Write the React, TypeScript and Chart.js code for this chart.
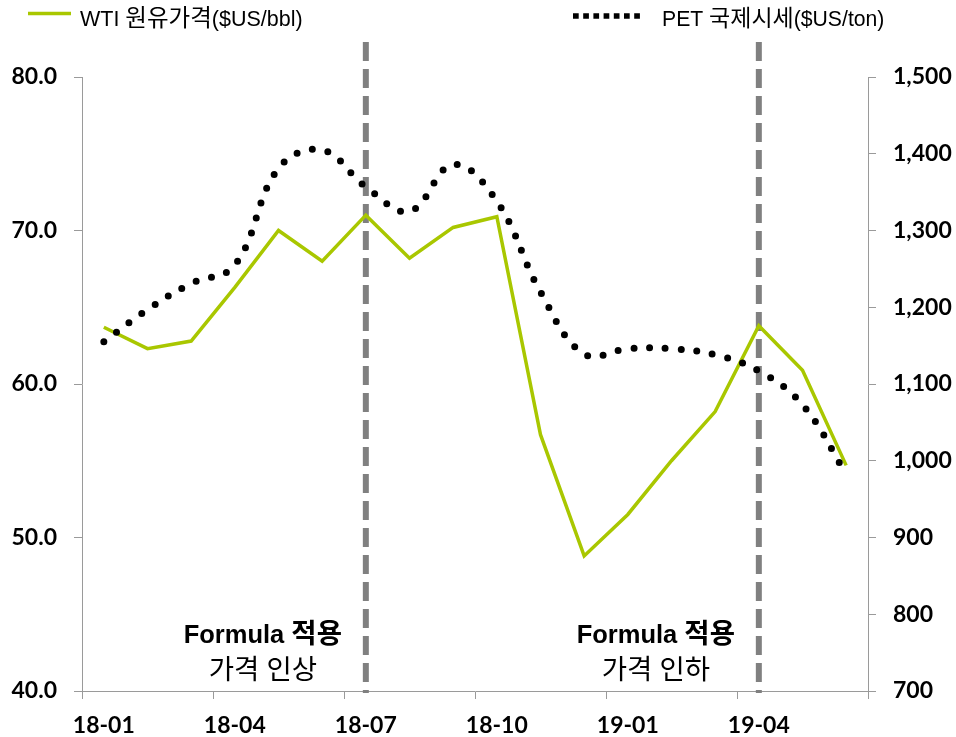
import React, { useEffect, useRef } from 'react';
import { Chart, registerables } from 'chart.js';

Chart.register(...registerables);

// ---- data ----
const months = [
  '18-01', '18-02', '18-03', '18-04', '18-05', '18-06',
  '18-07', '18-08', '18-09', '18-10', '18-11', '18-12',
  '19-01', '19-02', '19-03', '19-04', '19-05', '19-06',
];
const wtiPrice = [63.7, 62.3, 62.8, 66.3, 70.0, 68.0, 71.0, 68.2, 70.2, 70.9, 56.7, 48.8, 51.5, 55.0, 58.2, 63.8, 60.9, 54.7];
const petPrice = [1155, 1197, 1231, 1255, 1381, 1405, 1357, 1325, 1386, 1338, 1220, 1139, 1146, 1146, 1138, 1117, 1073, 983];

const wtiLabel = 'WTI 원유가격($US/bbl)';
const petLabel = 'PET 국제시세($US/ton)';

const leftAxis = { min: 40, max: 80, step: 10 };
const rightAxis = { min: 700, max: 1500, step: 100 };
const labelEvery = 3;

const markerMonths = ['18-07', '19-04'];
const markerNotes = [
  ['Formula 적용', '가격 인상'],
  ['Formula 적용', '가격 인하'],
];

// ---- styles ----
const GREEN = '#a9c700';
const AXIS_GRAY = '#9a9a9a';
const DASH_GRAY = '#808080';
const TICK_FONT = { family: 'Lato, "Noto Sans", sans-serif', size: 23, weight: 'bold' as const };
const LATIN_FAMILY = '"Liberation Sans", Arial, sans-serif';
const KOREAN_FAMILY = '"Noto Sans CJK KR", "Noto Sans CJK SC", sans-serif';

// draw text in runs: Latin and Hangul with their own sizes
function splitRuns(text: string) {
  const runs: { t: string; ko: boolean }[] = [];
  for (const ch of text) {
    const ko = /[\uAC00-\uD7A3]/.test(ch);
    const last = runs[runs.length - 1];
    if (last && last.ko === ko) last.t += ch;
    else runs.push({ t: ch, ko });
  }
  return runs;
}
function fontFor(ko: boolean, bold: boolean, latinSize: number, koSize: number) {
  return ko
    ? `${bold ? 'bold ' : ''}${koSize}px ${KOREAN_FAMILY}`
    : `${bold ? 'bold ' : ''}${latinSize}px ${LATIN_FAMILY}`;
}
function drawMixed(
  ctx: CanvasRenderingContext2D, text: string, x: number, y: number,
  align: 'left' | 'center', bold: boolean, latinSize: number, koSize: number,
) {
  const runs = splitRuns(text);
  let total = 0;
  const widths = runs.map((r) => {
    ctx.font = fontFor(r.ko, bold, latinSize, koSize);
    const w = ctx.measureText(r.t).width;
    total += w;
    return w;
  });
  let cx = align === 'center' ? x - total / 2 : x;
  ctx.textAlign = 'left';
  ctx.textBaseline = 'alphabetic';
  runs.forEach((r, i) => {
    ctx.font = fontFor(r.ko, bold, latinSize, koSize);
    ctx.fillText(r.t, cx, y);
    cx += widths[i];
  });
}

const overlayPlugin = {
  id: 'overlay',
  beforeDatasetsDraw(chart: any) {
    const { ctx, chartArea, scales } = chart;
    const x = scales.x;
    ctx.save();
    ctx.strokeStyle = DASH_GRAY;
    ctx.lineWidth = 6;
    ctx.setLineDash([19, 8]);
    ctx.lineCap = 'butt';
    markerMonths.forEach((m) => {
      const px = x.getPixelForValue(months.indexOf(m));
      ctx.beginPath();
      ctx.moveTo(px, chartArea.top - 35);
      ctx.lineTo(px, chartArea.bottom + 2);
      ctx.stroke();
    });
    ctx.restore();
  },
  afterDraw(chart: any) {
    const { ctx, chartArea, scales } = chart;
    const x = scales.x;
    ctx.save();
    ctx.fillStyle = '#000';
    // annotations
    markerMonths.forEach((m, i) => {
      const cx = x.getPixelForValue(months.indexOf(m)) - 103;
      const [l1, l2] = markerNotes[i];
      drawMixed(ctx, l1, cx, chartArea.bottom - 48, 'center', true, 25.5, 27.5);
      drawMixed(ctx, l2, cx, chartArea.bottom - 12, 'center', false, 25.5, 27.5);
    });

    // legend
    ctx.strokeStyle = GREEN;
    ctx.lineWidth = 3.5;
    ctx.beginPath();
    ctx.moveTo(28, 13.5);
    ctx.lineTo(71, 13.5);
    ctx.stroke();
    ctx.fillStyle = '#000';
    drawMixed(ctx, wtiLabel, 80, 26, 'left', false, 21.5, 23.5);

    ctx.strokeStyle = '#000';
    ctx.lineWidth = 5.5;
    ctx.setLineDash([5.7, 4.5]);
    ctx.beginPath();
    ctx.moveTo(573, 16);
    ctx.lineTo(640, 16);
    ctx.stroke();
    ctx.setLineDash([]);
    drawMixed(ctx, petLabel, 662, 26, 'left', false, 21.2, 23);
    ctx.restore();
  },
};

export default function App() {
  const ref = useRef<HTMLCanvasElement | null>(null);

  useEffect(() => {
    document.body.style.margin = '0';
    if (!ref.current) return;
    const chart = new Chart(ref.current, {
      type: 'line',
      data: {
        labels: months,
        datasets: [
          {
            label: wtiLabel,
            data: wtiPrice,
            yAxisID: 'y',
            borderColor: GREEN,
            backgroundColor: GREEN,
            borderWidth: 3.5,
            pointRadius: 0,
            tension: 0,
            order: 1,
          },
          {
            label: petLabel,
            data: petPrice,
            yAxisID: 'y1',
            borderColor: '#000',
            backgroundColor: '#000',
            borderWidth: 7,
            borderDash: [0, 15.8],
            borderCapStyle: 'round',
            pointRadius: 0,
            tension: 0.4,
            order: 0,
          },
        ],
      },
      options: {
        animation: false,
        responsive: true,
        maintainAspectRatio: false,
        layout: { padding: { top: 77, left: 0, right: 0, bottom: 0 } },
        plugins: { legend: { display: false }, tooltip: { enabled: false } },
        scales: {
          x: {
            offset: true,
            grid: {
              offset: true,
              drawOnChartArea: false,
              drawTicks: true,
              tickLength: 8,
              color: (c: any) => (c.index === undefined || c.index % labelEvery === 0 ? AXIS_GRAY : 'rgba(0,0,0,0)'),
            },
            border: { display: true, color: AXIS_GRAY, width: 1 },
            ticks: {
              autoSkip: false,
              maxRotation: 0,
              padding: 13,
              color: '#000',
              font: TICK_FONT,
              callback: (_v: any, i: number) => (i % labelEvery === 0 ? months[i] : ''),
            },
            afterFit: (s: any) => { s.height = 46; },
          },
          y: {
            position: 'left',
            min: leftAxis.min,
            max: leftAxis.max,
            grid: { drawOnChartArea: false, drawTicks: true, tickLength: 8, color: AXIS_GRAY },
            border: { display: true, color: AXIS_GRAY, width: 1 },
            ticks: {
              stepSize: leftAxis.step,
              padding: 17,
              color: '#000',
              font: TICK_FONT,
              callback: (v: any) => Number(v).toFixed(1),
            },
            afterFit: (s: any) => { s.width = 82; },
          },
          y1: {
            position: 'right',
            min: rightAxis.min,
            max: rightAxis.max,
            grid: { drawOnChartArea: false, drawTicks: true, tickLength: 8, color: AXIS_GRAY },
            border: { display: true, color: AXIS_GRAY, width: 1 },
            ticks: {
              stepSize: rightAxis.step,
              padding: 17,
              color: '#000',
              font: TICK_FONT,
              callback: (v: any) => Number(v).toLocaleString('en-US'),
            },
            afterFit: (s: any) => { s.width = 88; },
          },
        },
      },
      plugins: [overlayPlugin],
    } as any);
    return () => chart.destroy();
  }, []);

  return (
    <div style={{ position: 'relative', width: 956, height: 737 }}>
      <canvas ref={ref} />
    </div>
  );
}
